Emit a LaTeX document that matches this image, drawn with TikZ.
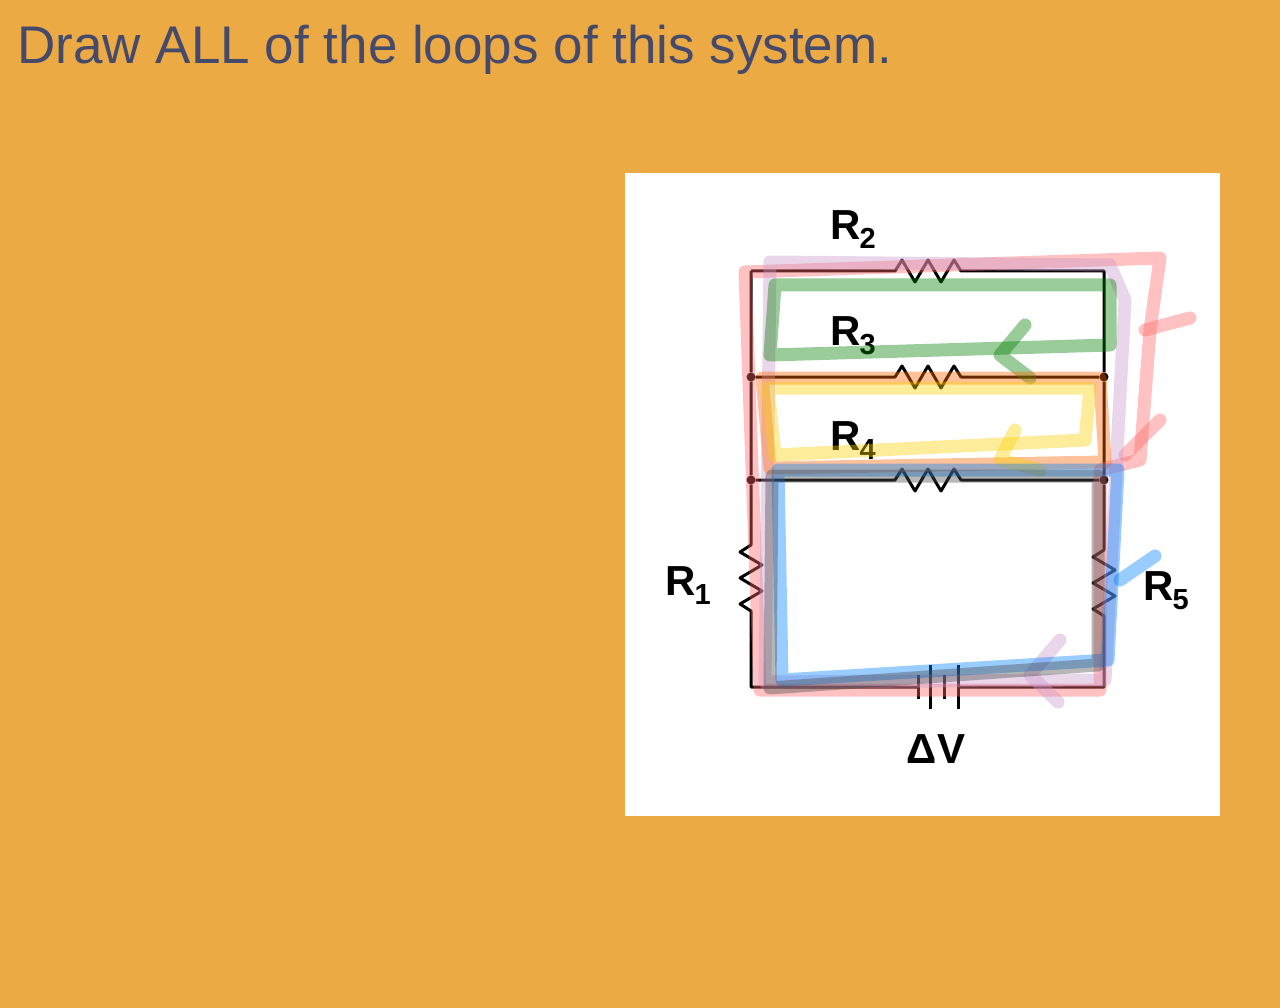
\documentclass[tikz,border=0pt]{standalone}
\usepackage{fontspec}
\setmainfont{Liberation Sans}
\usetikzlibrary{positioning}
\definecolor{bgorange}{HTML}{ECAA45}
\definecolor{titleblue}{HTML}{454A6A}
\tikzset{
  wire/.style={line width=3pt, black, line join=round},
  lbl/.style={font=\bfseries\fontsize{42}{42}\selectfont},
  pen/.style={line width=13pt, line cap=round, line join=round, opacity=0.4},
  dot/.style={circle, fill=black, inner sep=0pt, minimum size=9pt}
}
\newcommand{\zigh}{-- ++(4,0) -- ++(7,-11) -- ++(13,22) -- ++(13,-22) -- ++(13,22) -- ++(13,-22) -- ++(7,11) -- ++(4,0)}
\newcommand{\zigv}{-- ++(0,4) -- ++(-11,7) -- ++(22,13) -- ++(-22,13) -- ++(22,13) -- ++(-22,13) -- ++(11,7) -- ++(0,4)}
\newcommand{\rlab}[1]{R\kern-1pt\raisebox{-9pt}{\fontsize{29}{29}\selectfont #1}}
\begin{document}
\begin{tikzpicture}[x=1pt,y=-1pt]
\fill[bgorange] (0,0) rectangle (1280,1008);
\useasboundingbox (0,0) rectangle (1280,1008);
\node[anchor=west, text=titleblue, font=\fontsize{53}{53}\selectfont] (title) at (14,50) {Draw ALL of the loops of this system.};
\fill[white] (625,173) rectangle (1220,816);

% corners and junctions
\coordinate (tl) at (751,271); \coordinate (tr) at (1104,271);
\node[dot] (ml) at (751,377) {}; \node[dot] (mr) at (1104,377) {};
\node[dot] (ll) at (751,480) {}; \node[dot] (lr) at (1104,480) {};
\coordinate (bl) at (751,687); \coordinate (br) at (1104,687);

% wires
\draw[wire] (tl) -- (891,271) \zigh -- (tr) -- (mr);
\draw[wire] (ml) -- (891,377) \zigh -- (mr) -- (lr);
\draw[wire] (ll) -- (891,480) \zigh -- (lr);
\draw[wire] (tl) -- (ml) -- (ll) -- (751,541) \zigv -- (bl) -- (918,687);
\draw[wire] (lr) -- (1104,546) \zigv -- (br) -- (958,687);
\draw[wire] (918,675) -- (918,699); \draw[wire] (930,665) -- (930,709);
\draw[wire] (944,675) -- (944,699); \draw[wire] (958,665) -- (958,709);

% labels
\node[lbl] (r2) at (853,230) {\rlab{2}};
\node[lbl] (r3) at (853,336) {\rlab{3}};
\node[lbl] (r4) at (853,441) {\rlab{4}};
\node[lbl] (r1) at (688,586) {\rlab{1}};
\node[lbl] (r5) at (1166,591) {\rlab{5}};
\node[lbl] (dv) at (936,749) {ΔV};

% hand-drawn loops
\draw[pen, red!60] (745,272) -- (1160,258) -- (1150,330) -- (1140,460) -- (1100,470) -- (1100,690) -- (760,690) -- cycle;
\draw[pen, red!60] (1145,330) -- (1190,318);
\draw[pen, red!60] (1125,455) -- (1160,420);
\draw[pen, violet!40] (770,262) -- (1110,265) -- (1125,300) -- (1105,680) -- (765,682) -- cycle;
\draw[pen, violet!40] (1060,640) -- (1030,675) -- (1058,702);
\draw[pen, green!50!black] (775,285) -- (1110,285) -- (1110,345) -- (770,355) -- cycle;
\draw[pen, green!50!black] (1025,325) -- (1000,355) -- (1030,378);
\draw[pen, orange!80!red] (762,378) -- (1100,378) -- (1105,462) -- (770,468) -- cycle;
\draw[pen, yellow!70!orange] (768,388) -- (1090,388) -- (1085,440) -- (775,455) -- cycle;
\draw[pen, yellow!70!orange] (1015,430) -- (1000,460) -- (1040,470);
\draw[pen, blue!50!cyan] (778,470) -- (1118,470) -- (1108,660) -- (782,680) -- cycle;
\draw[pen, blue!50!cyan] (1120,580) -- (1155,556);
\draw[pen, black!70] (772,476) -- (1098,476) -- (1098,665) -- (770,688) -- cycle;
\end{tikzpicture}
\end{document}
